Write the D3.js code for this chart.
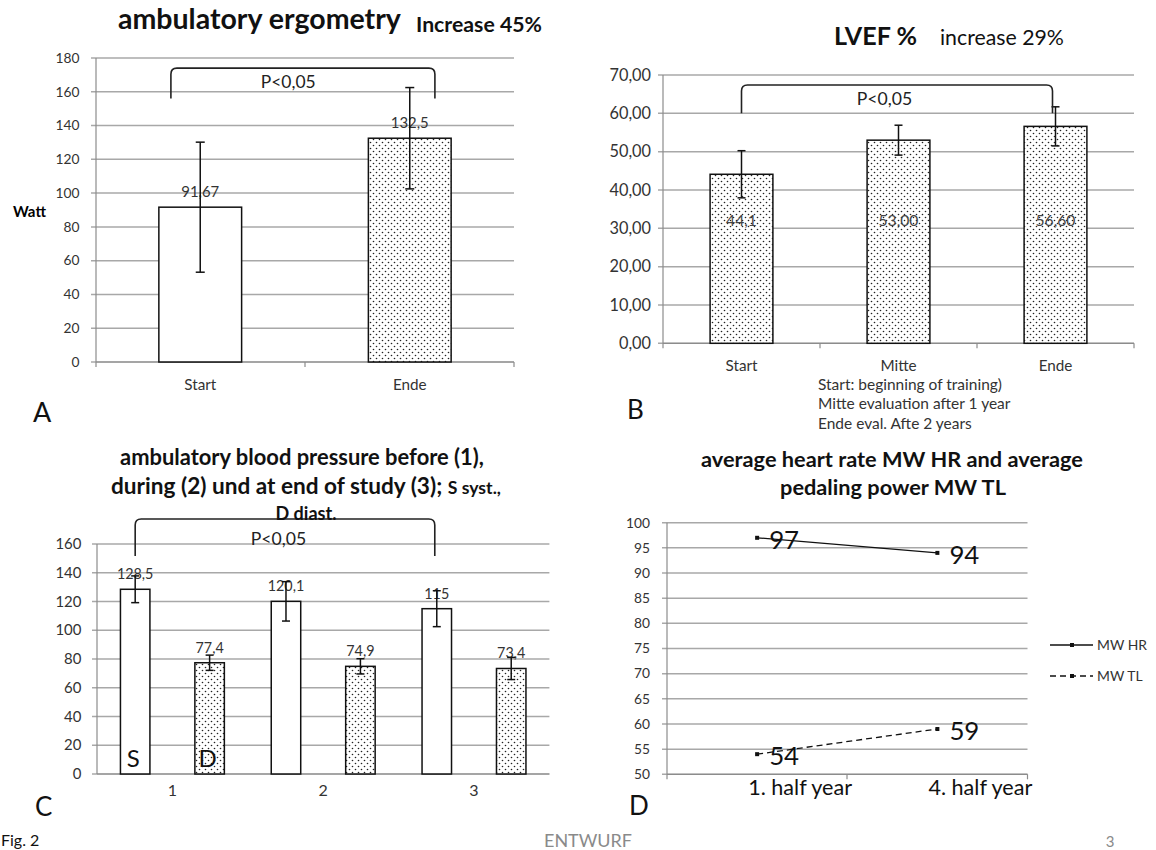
<!DOCTYPE html>
<html><head><meta charset="utf-8">
<script src="https://cdn.jsdelivr.net/npm/d3@7/dist/d3.min.js"></script>
<style>
body{margin:0;background:#fff}
svg{display:block;font-family:Lato,"Open Sans",sans-serif}
</style></head>
<body>
<svg id="c" width="1156" height="850"></svg>
<script>
// ---------- DATA ----------
// Panel A
const aCategories = ["Start", "Ende"];
const aValues = [91.67, 132.5];
const aErrors = [38.5, 30];
const aLabels = ["91,67", "132,5"];
const aTicks = [0, 20, 40, 60, 80, 100, 120, 140, 160, 180];
// Panel B
const bCategories = ["Start", "Mitte", "Ende"];
const bValues = [44.1, 53.0, 56.6];
const bErrors = [6.15, 3.9, 5.1];
const bLabels = ["44,1", "53,00", "56,60"];
const bTicks = [0, 10, 20, 30, 40, 50, 60, 70];
const bNotes = ["Start: beginning of training)", "Mitte evaluation after 1 year", "Ende eval. Afte 2 years"];
// Panel C
const cGroups = ["1", "2", "3"];
const cSeries = ["S", "D"];
const cSyst = [128.5, 120.1, 115];
const cDiast = [77.4, 74.9, 73.4];
const cSystErr = [9.3, 13.7, 12.5];
const cDiastErr = [5.3, 5.3, 7.7];
const cSystLabels = ["128,5", "120,1", "115"];
const cDiastLabels = ["77,4", "74,9", "73,4"];
const cTicks = [0, 20, 40, 60, 80, 100, 120, 140, 160];
// Panel D
const dCategories = ["1. half year", "4. half year"];
const dHR = [97, 94];
const dTL = [54, 59];
const dSeries = ["MW HR", "MW TL"];
const dTicks = [50, 55, 60, 65, 70, 75, 80, 85, 90, 95, 100];

// ---------- SETUP ----------
const svg = d3.select("#c");
svg.append("rect").attr("width", 1156).attr("height", 850).attr("fill", "#fff");
const defs = svg.append("defs");
const pat = defs.append("pattern").attr("id", "dots").attr("patternUnits", "userSpaceOnUse")
  .attr("width", 6).attr("height", 6);
pat.append("rect").attr("width", 6).attr("height", 6).attr("fill", "#fff");
pat.append("circle").attr("cx", 1.5).attr("cy", 1.5).attr("r", 0.8).attr("fill", "#222");
pat.append("circle").attr("cx", 4.5).attr("cy", 4.5).attr("r", 0.8).attr("fill", "#222");

const GRID = "#a8a8a8", AXIS = "#8c8c8c", TXT = "#333";

// scale a text's font-size so that it spans the given width
function fit(sel, w) {
  const n = sel.node();
  const cur = parseFloat(sel.attr("font-size"));
  const len = n.getComputedTextLength();
  if (len > 0) sel.attr("font-size", (cur * w / len).toFixed(2));
  return sel;
}
function fitGroup(selection, refNode, w) {
  const cur = parseFloat(d3.select(refNode).attr("font-size"));
  const len = refNode.getComputedTextLength();
  if (len > 0) selection.attr("font-size", (cur * w / len).toFixed(2));
}

function yAxisGrid(g, y, ticks, x0, x1, fmt, labelGap, topW) {
  g.selectAll(null).data(ticks).join("line")
    .attr("x1", x0 - 5).attr("x2", x1).attr("y1", d => y(d)).attr("y2", d => y(d))
    .attr("stroke", GRID).attr("stroke-width", 1.5);
  g.append("line").attr("x1", x0).attr("x2", x0).attr("y1", y(ticks[0])).attr("y2", y(ticks[ticks.length - 1]))
    .attr("stroke", AXIS).attr("stroke-width", 1.2);
  const lab = g.selectAll(null).data(ticks).join("text")
    .attr("x", x0 - labelGap).attr("y", d => y(d)).attr("dy", "0.35em").attr("text-anchor", "end")
    .attr("font-size", 14).attr("fill", TXT).text(fmt);
  fitGroup(lab, lab.nodes()[ticks.length - 1], topW);
}
function xBaseTicks(g, xs, yb) {
  g.selectAll(null).data(xs).join("line")
    .attr("x1", d => d).attr("x2", d => d).attr("y1", yb).attr("y2", yb + 5)
    .attr("stroke", AXIS).attr("stroke-width", 1.2);
}
function errBar(g, cx, y, v, e, cap) {
  g.append("line").attr("x1", cx).attr("x2", cx).attr("y1", y(v - e)).attr("y2", y(v + e))
    .attr("stroke", "#111").attr("stroke-width", 1.5);
  [v - e, v + e].forEach(t => g.append("line").attr("x1", cx - cap).attr("x2", cx + cap)
    .attr("y1", y(t)).attr("y2", y(t)).attr("stroke", "#111").attr("stroke-width", 1.5));
}
function bracket(g, xa, xb, yTop, yBot) {
  const r = 6;
  g.append("path").attr("fill", "none").attr("stroke", "#222").attr("stroke-width", 1.6)
    .attr("d", `M${xa},${yBot} L${xa},${yTop + r} Q${xa},${yTop} ${xa + r},${yTop} L${xb - r},${yTop} Q${xb},${yTop} ${xb},${yTop + r} L${xb},${yBot}`);
}
const fmtComma = d3.format(".2f");

// ---------- PANEL A ----------
{
  const g = svg.append("g");
  const x = d3.scaleBand().domain(aCategories).range([96, 514]).paddingInner(0.605).paddingOuter(0.3);
  const y = d3.scaleLinear().domain([0, 180]).range([362, 58]);
  yAxisGrid(g, y, aTicks, 96, 514, d => d, 16.5, 24);
  g.append("line").attr("x1", 96).attr("x2", 514).attr("y1", y(0)).attr("y2", y(0)).attr("stroke", AXIS).attr("stroke-width", 1.2);
  xBaseTicks(g, [96, 305, 514], y(0));
  g.selectAll(null).data(aCategories).join("rect")
    .attr("x", d => x(d)).attr("width", x.bandwidth())
    .attr("y", (d, i) => y(aValues[i])).attr("height", (d, i) => y(0) - y(aValues[i]))
    .attr("fill", (d, i) => i === 0 ? "#fff" : "url(#dots)").attr("stroke", "#111").attr("stroke-width", 1.5);
  const dl = [], cl = [];
  aCategories.forEach((c, i) => {
    const cx = x(c) + x.bandwidth() / 2;
    dl.push(g.append("text").attr("x", cx).attr("y", y(aValues[i]) - 10).attr("text-anchor", "middle")
      .attr("font-size", 14).attr("fill", TXT).text(aLabels[i]).node());
    errBar(g, cx, y, aValues[i], aErrors[i], 4.5);
    cl.push(g.append("text").attr("x", cx).attr("y", 390).attr("text-anchor", "middle").attr("font-size", 14).attr("fill", TXT).text(c).node());
  });
  fitGroup(d3.selectAll(dl), dl[0], 38);
  fitGroup(d3.selectAll(cl), cl[0], 32);
  const step = x.step();
  const c0 = x(aCategories[0]) + x.bandwidth() / 2;
  bracket(g, c0 - 0.14 * step, c0 + 1.12 * step, y(174), y(156));
  fit(g.append("text").attr("x", c0 + 0.42 * step).attr("y", y(166)).attr("dy", "0.35em")
    .attr("text-anchor", "middle").attr("font-size", 16).attr("fill", "#222").text("P<0,05"), 55);
  fit(g.append("text").attr("x", 13).attr("y", 217).attr("font-size", 13).attr("font-weight", 700).text("Watt"), 33);
  fit(g.append("text").attr("x", 118).attr("y", 29).attr("font-size", 25).attr("font-weight", 700).attr("fill", "#111").text("ambulatory ergometry"), 283);
  fit(g.append("text").attr("x", 416).attr("y", 32).attr("font-size", 17).attr("font-weight", 700).attr("fill", "#111").text("Increase 45%"), 126);
  g.append("text").attr("x", 33).attr("y", 422).attr("font-size", 27).attr("fill", "#111").text("A");
}

// ---------- PANEL B ----------
{
  const g = svg.append("g");
  const x = d3.scaleBand().domain(bCategories).range([663, 1134]).paddingInner(0.6).paddingOuter(0.3);
  const y = d3.scaleLinear().domain([0, 70]).range([343.3, 75]);
  yAxisGrid(g, y, bTicks, 663, 1134, d => fmtComma(d).replace(".", ","), 12, 41.5);
  g.append("line").attr("x1", 663).attr("x2", 1134).attr("y1", y(0)).attr("y2", y(0)).attr("stroke", AXIS).attr("stroke-width", 1.2);
  xBaseTicks(g, d3.range(4).map(i => 663 + i * (1134 - 663) / 3), y(0));
  g.selectAll(null).data(bCategories).join("rect")
    .attr("x", d => x(d)).attr("width", x.bandwidth())
    .attr("y", (d, i) => y(bValues[i])).attr("height", (d, i) => y(0) - y(bValues[i]))
    .attr("fill", "url(#dots)").attr("stroke", "#111").attr("stroke-width", 1.5);
  const dl = [], cl = [];
  bCategories.forEach((c, i) => {
    const cx = x(c) + x.bandwidth() / 2;
    dl.push(g.append("text").attr("x", cx).attr("y", y(32)).attr("dy", "0.35em").attr("text-anchor", "middle")
      .attr("font-size", 14).attr("fill", "#444").text(bLabels[i]).node());
    errBar(g, cx, y, bValues[i], bErrors[i], 4);
    cl.push(g.append("text").attr("x", cx).attr("y", 370.5).attr("text-anchor", "middle").attr("font-size", 15).attr("fill", TXT).text(c).node());
  });
  fitGroup(d3.selectAll(dl), dl[1], 40);
  fitGroup(d3.selectAll(cl), cl[0], 32);
  const c0 = x(bCategories[0]) + x.bandwidth() / 2, c2 = x(bCategories[2]) + x.bandwidth() / 2;
  bracket(g, c0, c2 - 3, y(67.4), y(60));
  fit(g.append("text").attr("x", x(bCategories[1]) + x.bandwidth() / 2 - 14).attr("y", y(63.8)).attr("dy", "0.35em")
    .attr("text-anchor", "middle").attr("font-size", 17).attr("fill", "#222").text("P<0,05"), 55.5);
  const notes = g.selectAll(null).data(bNotes).join("text")
    .attr("x", 818).attr("y", (d, i) => 389.5 + i * 19.5).attr("font-size", 14).attr("fill", TXT).text(d => d);
  fitGroup(notes, notes.nodes()[0], 184);
  fit(g.append("text").attr("x", 834).attr("y", 45).attr("font-size", 22).attr("font-weight", 700).attr("fill", "#111").text("LVEF %"), 83);
  fit(g.append("text").attr("x", 940).attr("y", 45).attr("font-size", 19).attr("fill", "#111").text("increase 29%"), 124);
  g.append("text").attr("x", 627).attr("y", 419).attr("font-size", 26).attr("fill", "#111").text("B");
}

// ---------- PANEL C ----------
{
  const g = svg.append("g");
  const x0 = d3.scaleBand().domain(cGroups).range([97, 549.4]);
  const x1 = d3.scaleBand().domain(cSeries).range([0, x0.bandwidth()]).paddingInner(0.604).paddingOuter(0.315);
  const y = d3.scaleLinear().domain([0, 160]).range([774, 544]);
  yAxisGrid(g, y, cTicks, 97, 549.4, d => d, 15.6, 26);
  g.append("line").attr("x1", 97).attr("x2", 549.4).attr("y1", y(0)).attr("y2", y(0)).attr("stroke", AXIS).attr("stroke-width", 1.2);
  const rows = cGroups.flatMap((grp, i) => [
    { grp, s: "S", v: cSyst[i], e: cSystErr[i], l: cSystLabels[i] },
    { grp, s: "D", v: cDiast[i], e: cDiastErr[i], l: cDiastLabels[i] }]);
  g.selectAll(null).data(rows).join("rect")
    .attr("x", d => x0(d.grp) + x1(d.s)).attr("width", x1.bandwidth())
    .attr("y", d => y(d.v)).attr("height", d => y(0) - y(d.v))
    .attr("fill", d => d.s === "S" ? "#fff" : "url(#dots)").attr("stroke", "#111").attr("stroke-width", 1.5);
  const dl = [];
  rows.forEach(d => {
    const cx = x0(d.grp) + x1(d.s) + x1.bandwidth() / 2;
    dl.push(g.append("text").attr("x", cx).attr("y", y(d.v) - 10).attr("text-anchor", "middle")
      .attr("font-size", 14).attr("fill", TXT).text(d.l).node());
    errBar(g, cx, y, d.v, d.e, 4);
  });
  fitGroup(d3.selectAll(dl), dl[0], 36.5);
  cSeries.forEach(s => {
    g.append("text").attr("x", x0(cGroups[0]) + x1(s) + x1.bandwidth() / 2 - 2).attr("y", 767).attr("text-anchor", "middle")
      .attr("font-size", 24).attr("fill", "#111").text(s);
  });
  g.selectAll(null).data(cGroups).join("text")
    .attr("x", d => x0(d) + x0.bandwidth() / 2).attr("y", 796).attr("text-anchor", "middle")
    .attr("font-size", 16).attr("fill", TXT).text(d => d);
  const sx = i => x0(cGroups[i]) + x1("S") + x1.bandwidth() / 2;
  bracket(g, sx(0), sx(2) - 2, y(177.4), y(151.6));
  fit(g.append("text").attr("x", 278.5).attr("y", y(163.5)).attr("dy", "0.35em")
    .attr("text-anchor", "middle").attr("font-size", 16).attr("fill", "#222").text("P<0,05"), 55.5);
  const t = g.append("g").attr("font-weight", 700).attr("fill", "#111").attr("text-anchor", "middle");
  fit(t.append("text").attr("x", 302).attr("y", 465).attr("font-size", 18).text("ambulatory blood pressure before (1),"), 364);
  const l2 = t.append("text").attr("x", 306).attr("y", 494).attr("font-size", 18);
  l2.append("tspan").text("during (2) und at end of study (3); ");
  l2.append("tspan").attr("font-size", "0.78em").text("S syst.,");
  fit(l2, 390);
  fit(t.append("text").attr("x", 306).attr("y", 520).attr("font-size", 15).text("D diast."), 61);
  g.append("text").attr("x", 35).attr("y", 816).attr("font-size", 26).attr("fill", "#111").text("C");
}

// ---------- PANEL D ----------
{
  const g = svg.append("g");
  const x = d3.scaleBand().domain(dCategories).range([667, 1027.5]);
  const y = d3.scaleLinear().domain([50, 100]).range([774.3, 522.7]);
  yAxisGrid(g, y, dTicks, 667, 1027.5, d => d, 17, 24);
  g.append("line").attr("x1", 667).attr("x2", 1027.5).attr("y1", y(50)).attr("y2", y(50)).attr("stroke", AXIS).attr("stroke-width", 1.2);
  xBaseTicks(g, [667, 847, 1027.5], y(50));
  const cx = d => x(d) + x.bandwidth() / 2;
  const line = d3.line().x(d => cx(d.c)).y(d => y(d.v));
  const series = [
    { name: dSeries[0], vals: dHR, dash: null },
    { name: dSeries[1], vals: dTL, dash: "6,4" }];
  const dl = [], ll = [];
  series.forEach((s, si) => {
    const pts = dCategories.map((c, i) => ({ c, v: s.vals[i] }));
    g.append("path").attr("d", line(pts)).attr("fill", "none").attr("stroke", "#111").attr("stroke-width", 1.3)
      .attr("stroke-dasharray", s.dash);
    pts.forEach(p => {
      g.append("rect").attr("x", cx(p.c) - 2).attr("y", y(p.v) - 2).attr("width", 4).attr("height", 4).attr("fill", "#111");
      dl.push(g.append("text").attr("x", cx(p.c) + 12).attr("y", y(p.v) + 2).attr("dy", "0.35em")
        .attr("font-size", 28).attr("fill", "#111").text(p.v).node());
    });
    const ly = 645 + si * 31;
    g.append("line").attr("x1", 1050).attr("x2", 1093).attr("y1", ly).attr("y2", ly).attr("stroke", "#111")
      .attr("stroke-width", 1.3).attr("stroke-dasharray", s.dash);
    g.append("rect").attr("x", 1070).attr("y", ly - 2).attr("width", 4).attr("height", 4).attr("fill", "#111");
    ll.push(g.append("text").attr("x", 1097).attr("y", ly).attr("dy", "0.35em").attr("font-size", 14).attr("fill", TXT).text(s.name).node());
  });
  fitGroup(d3.selectAll(dl), dl[0], 30);
  fitGroup(d3.selectAll(ll), ll[0], 50);
  const xl = g.selectAll(null).data(dCategories).join("text")
    .attr("x", d => cx(d) + 43).attr("y", 795).attr("text-anchor", "middle")
    .attr("font-size", 21).attr("fill", "#111").text(d => d);
  fitGroup(xl, xl.nodes()[0], 104);
  const t = g.append("g").attr("font-weight", 700).attr("fill", "#111").attr("text-anchor", "middle");
  fit(t.append("text").attr("x", 892).attr("y", 467).attr("font-size", 18).text("average heart rate MW HR and average"), 382);
  fit(t.append("text").attr("x", 893).attr("y", 495).attr("font-size", 18).text("pedaling power MW TL"), 226);
  g.append("text").attr("x", 629).attr("y", 815).attr("font-size", 26).attr("fill", "#111").text("D");
}

// ---------- FOOTER ----------
fit(svg.append("text").attr("x", 588).attr("y", 847).attr("text-anchor", "middle").attr("font-size", 14).attr("fill", "#8a8a8a").text("ENTWURF"), 88);
svg.append("text").attr("x", 1110).attr("y", 847).attr("text-anchor", "middle").attr("font-size", 15).attr("fill", "#8a8a8a").text("3");
svg.append("text").attr("x", 1).attr("y", 846).attr("font-size", 16).attr("fill", "#111").text("Fig. 2");
</script>
</body></html>
